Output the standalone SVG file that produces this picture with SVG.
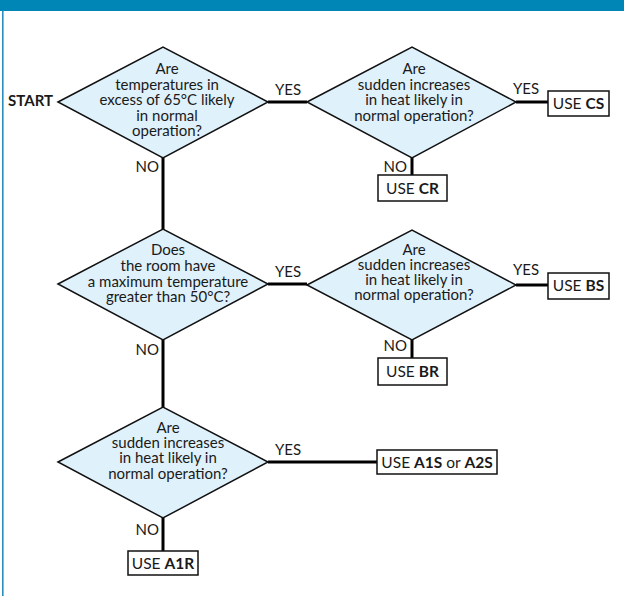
<svg xmlns="http://www.w3.org/2000/svg" width="624" height="596" viewBox="0 0 624 596">
<style>
text{font-family:Lato,"Open Sans","Liberation Sans",sans-serif;font-size:15px;fill:#1a1a1a}
.q{text-anchor:middle}
.b{font-weight:bold}
.dia{fill:#dff1fb;stroke:#111;stroke-width:1.5}
.box{fill:#fff;stroke:#111;stroke-width:1.5}
.bt{font-size:15.5px;text-anchor:middle}
.con{stroke:#000;stroke-width:3;fill:none}
.end{text-anchor:end}
</style>
<rect x="0" y="0" width="624" height="11" fill="#0085b7"/>
<rect x="2" y="11" width="1.6" height="585" fill="#2a8fbf"/>
<g id="connectors">
<line class="con" x1="268" y1="102" x2="307" y2="102"/>
<line class="con" x1="516" y1="102" x2="548" y2="102"/>
<line class="con" x1="412" y1="158" x2="412" y2="175"/>
<line class="con" x1="163" y1="158" x2="163" y2="229"/>
<line class="con" x1="268" y1="284" x2="307" y2="284"/>
<line class="con" x1="516" y1="285" x2="548" y2="285"/>
<line class="con" x1="412" y1="340" x2="412" y2="358"/>
<line class="con" x1="163" y1="340" x2="163" y2="407"/>
<line class="con" x1="268" y1="462" x2="377" y2="462"/>
<line class="con" x1="163" y1="518" x2="163" y2="551"/>
<text x="275" y="95">YES</text>
<text class="end" x="159" y="172">NO</text>
<text x="513" y="94">YES</text>
<text class="end" x="407" y="172">NO</text>
<text x="275" y="277">YES</text>
<text class="end" x="159" y="355">NO</text>
<text x="513" y="275">YES</text>
<text class="end" x="407" y="351">NO</text>
<text x="275" y="455">YES</text>
<text class="end" x="159" y="535">NO</text>
</g>
<g id="start"><text class="b end" x="53" y="106">START</text></g>
<g id="q1">
<polygon class="dia" points="58,102 163,47 268,102 163,158"/>
<text class="q" x="167" y="74">Are</text>
<text class="q" x="167" y="89.5">temperatures in</text>
<text class="q" x="167" y="105">excess of 65°C likely</text>
<text class="q" x="167" y="120.5">in normal</text>
<text class="q" x="167" y="136">operation?</text>
</g>
<g id="q2">
<polygon class="dia" points="307,102 412,47 516,102 412,158"/>
<text class="q" x="414" y="74">Are</text>
<text class="q" x="414" y="89.5">sudden increases</text>
<text class="q" x="414" y="105">in heat likely in</text>
<text class="q" x="414" y="120.5">normal operation?</text>
</g>
<g id="cs"><rect class="box" x="548" y="91" width="61" height="25"/><text class="bt" x="578.5" y="109">USE <tspan class="b">CS</tspan></text></g>
<g id="cr"><rect class="box" x="378" y="175" width="69" height="26"/><text class="bt" x="412.5" y="194">USE <tspan class="b">CR</tspan></text></g>
<g id="q3">
<polygon class="dia" points="58,284 163,229 268,284 163,340"/>
<text class="q" x="168" y="255">Does</text>
<text class="q" x="168" y="271">the room have</text>
<text class="q" x="168" y="287">a maximum temperature</text>
<text class="q" x="168" y="302">greater than 50°C?</text>
</g>
<g id="q4">
<polygon class="dia" points="307,285 412,230 516,285 412,340"/>
<text class="q" x="414" y="255">Are</text>
<text class="q" x="414" y="270">sudden increases</text>
<text class="q" x="414" y="285">in heat likely in</text>
<text class="q" x="414" y="300">normal operation?</text>
</g>
<g id="bs"><rect class="box" x="548" y="273" width="61" height="26"/><text class="bt" x="578.5" y="291">USE <tspan class="b">BS</tspan></text></g>
<g id="br"><rect class="box" x="378" y="358" width="69" height="27"/><text class="bt" x="412.5" y="377">USE <tspan class="b">BR</tspan></text></g>
<g id="q5">
<polygon class="dia" points="58,462 163,407 268,462 163,518"/>
<text class="q" x="168" y="433">Are</text>
<text class="q" x="168" y="448">sudden increases</text>
<text class="q" x="168" y="463">in heat likely in</text>
<text class="q" x="168" y="479">normal operation?</text>
</g>
<g id="a1s"><rect class="box" x="377" y="450" width="120" height="24"/><text class="bt" x="437" y="467.5">USE <tspan class="b">A1S</tspan> or <tspan class="b">A2S</tspan></text></g>
<g id="a1r"><rect class="box" x="128" y="551" width="70" height="24"/><text class="bt" x="163" y="568.5">USE <tspan class="b">A1R</tspan></text></g>
</svg>
